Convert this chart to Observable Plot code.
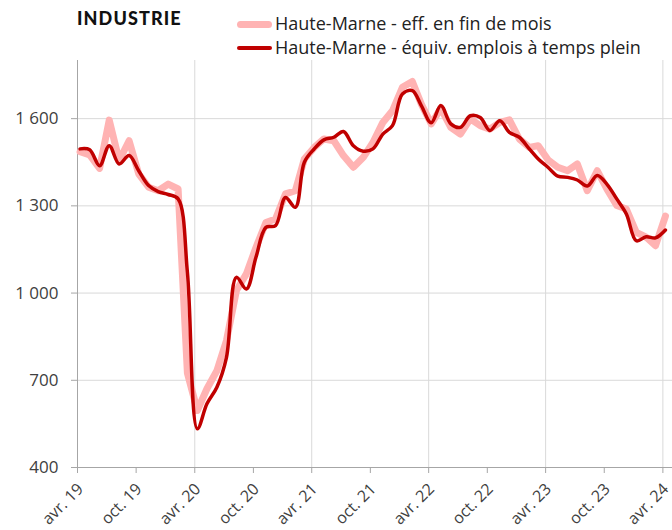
<!DOCTYPE html>
<html>
<head>
<meta charset="utf-8">
<script src="https://cdn.jsdelivr.net/npm/d3@7"></script>
<script src="https://cdn.jsdelivr.net/npm/@observablehq/plot@0.6"></script>
<style>
  html, body { margin: 0; padding: 0; background: #fff; }
  #wrap { position: relative; width: 672px; height: 530px; overflow: hidden; }
  #header { position: relative; height: 58px; }
  .title { position: absolute; left: 77px; top: 7px; font: 900 18px Lato, sans-serif; letter-spacing: 1.1px; color: #111; }
  .leg { position: absolute; left: 237px; font: 18px "Open Sans", sans-serif; color: #222; white-space: nowrap; line-height: 24px; }
  .sw { display: inline-block; width: 35px; vertical-align: middle; margin-right: 3px; position: relative; top: -1px; }
</style>
</head>
<body>
<div id="wrap">
  <div id="header">
    <div class="title">INDUSTRIE</div>
    <div class="leg" style="top:11px"><span class="sw" style="height:7px;border-radius:4px;background:#ffb3b3"></span>Haute-Marne - eff. en fin de mois</div>
    <div class="leg" style="top:35px"><span class="sw" style="height:3.5px;border-radius:2px;background:#c00000"></span>Haute-Marne - équiv. emplois à temps plein</div>
  </div>
  <div id="chart"></div>
</div>
<script>
const months = [
  "2019-04","2019-05","2019-06","2019-07","2019-08","2019-09","2019-10","2019-11","2019-12",
  "2020-01","2020-02","2020-03","2020-04","2020-05","2020-06","2020-07","2020-08","2020-09","2020-10","2020-11","2020-12",
  "2021-01","2021-02","2021-03","2021-04","2021-05","2021-06","2021-07","2021-08","2021-09","2021-10","2021-11","2021-12",
  "2022-01","2022-02","2022-03","2022-04","2022-05","2022-06","2022-07","2022-08","2022-09","2022-10","2022-11","2022-12",
  "2023-01","2023-02","2023-03","2023-04","2023-05","2023-06","2023-07","2023-08","2023-09","2023-10","2023-11","2023-12",
  "2024-01","2024-02","2024-03","2024-04"
];
const effFinMois = [
  1486,1475,1429,1595,1456,1524,1410,1364,1352,
  1375,1358,725,596,671,733,837,1009,1066,1157,1243,1255,
  1341,1352,1461,1501,1530,1524,1473,1433,1467,1518,1587,1627,
  1708,1728,1650,1582,1635,1570,1547,1599,1576,1564,1587,1596,
  1530,1501,1507,1458,1433,1421,1444,1352,1421,1358,1301,1289,
  1209,1192,1163,1265
];
const equivETP = [
  1496,1493,1438,1507,1444,1473,1421,1370,1349,
  1339,1324,1071,533,619,676,779,1054,1014,1123,1226,1232,
  1329,1295,1450,1496,1527,1536,1556,1507,1488,1496,1547,1576,
  1685,1696,1645,1586,1645,1582,1570,1610,1604,1559,1593,1553,
  1536,1496,1461,1432,1402,1398,1389,1368,1404,1375,1324,1272,
  1180,1194,1190,1217
];
const xTickMonths = ["2019-04","2019-10","2020-04","2020-10","2021-04","2021-10","2022-04","2022-10","2023-04","2023-10","2024-04"];
const xTickLabels = ["avr. 19","oct. 19","avr. 20","oct. 20","avr. 21","oct. 21","avr. 22","oct. 22","avr. 23","oct. 23","avr. 24"];
const yTicks = [400, 700, 1000, 1300, 1600];

const monthStart = s => { const [y, m] = s.split("-").map(Number); return new Date(Date.UTC(y, m - 1, 1)); };
const pointDate = s => { const [y, m] = s.split("-").map(Number); return new Date(Date.UTC(y, m - 1, 9)); };

const data = months.map((m, i) => ({ date: pointDate(m), eff: effFinMois[i], etp: equivETP[i] }));
const xTicks = xTickMonths.map(monthStart);
const labelMap = new Map(xTicks.map((d, i) => [+d, xTickLabels[i]]));
const aprilTicks = xTicks.filter((d, i) => xTickLabels[i].startsWith("avr."));
const xDomain = [new Date(Date.UTC(2019, 3, 1)), new Date(Date.UTC(2024, 4, 1))];
const fmtY = d => d >= 1000 ? `${Math.floor(d / 1000)}\u00A0${String(d % 1000).padStart(3, "0")}` : String(d);

const chart = Plot.plot({
  width: 672,
  height: 472,
  marginTop: 2,
  marginLeft: 77,
  marginRight: 0,
  marginBottom: 63,
  style: { fontFamily: "'Open Sans', sans-serif", fontSize: "17px", background: "white", color: "#404040" },
  x: { type: "utc", domain: xDomain },
  y: { domain: [400, 1800] },
  marks: [
    Plot.gridY(yTicks, { stroke: "#d9d9d9", strokeOpacity: 1 }),
    Plot.gridX(aprilTicks, { stroke: "#d9d9d9", strokeOpacity: 1 }),
    Plot.ruleX([xDomain[0]], { stroke: "#a6a6a6" }),
    Plot.ruleY([400], { stroke: "#a6a6a6" }),
    Plot.axisY({ ticks: yTicks, tickFormat: fmtY, tickSize: 6, tickPadding: 13, stroke: "#a6a6a6", fill: "#404040", fontSize: 17 }),
    Plot.axisX({ ticks: xTicks, tickFormat: () => "", tickSize: 6, stroke: "#a6a6a6" }),
    Plot.axisX({ ticks: xTicks, tickFormat: d => labelMap.get(+d), tickRotate: -45, tickSize: 0, tickPadding: 12, fill: "#404040", fontSize: 16, dx: 3, dy: 7 }),
    Plot.line(data, { x: "date", y: "eff", stroke: "#ffb3b3", strokeWidth: 7, strokeLinejoin: "round", strokeLinecap: "round" }),
    Plot.line(data, { x: "date", y: "etp", stroke: "#c00000", strokeWidth: 3.5, curve: "catmull-rom", strokeLinejoin: "round", strokeLinecap: "round" })
  ]
});
document.getElementById("chart").appendChild(chart);
</script>
</body>
</html>
